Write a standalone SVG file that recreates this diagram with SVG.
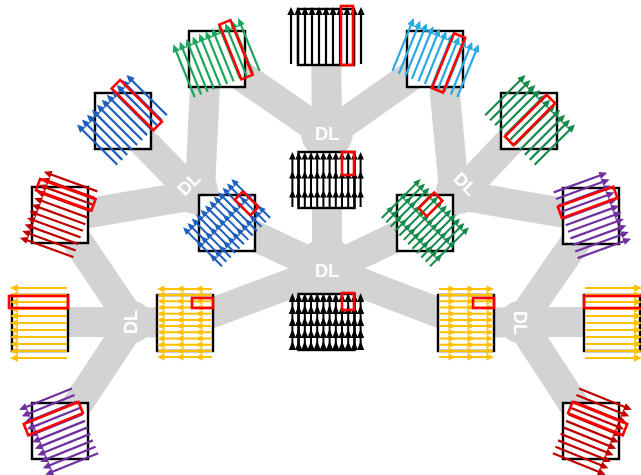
<svg xmlns="http://www.w3.org/2000/svg" xmlns:xlink="http://www.w3.org/1999/xlink" width="641" height="475" viewBox="0 0 641 475">
<style>
.sq{fill:#fff;stroke:#000;stroke-width:2.4}
.hl{fill:none;stroke:#ff0000;stroke-width:2.6}
.jn{fill:#d3d3d3}
.dl{font-family:"Liberation Sans",Arial,sans-serif;font-weight:bold;font-size:18px;fill:#fff;text-anchor:middle;dominant-baseline:central}
</style>
<defs>
<g id="a1"><line x1="0" y1="27" x2="0" y2="-23" stroke="currentColor" stroke-width="2.2"/><path d="M0,-30L3.7,-22L-3.7,-22Z" fill="currentColor"/></g>
<g id="leaf"><use href="#a1" x="-35"/><use href="#a1" x="-28"/><use href="#a1" x="-21"/><use href="#a1" x="-14"/><use href="#a1" x="-7"/><use href="#a1" x="0"/><use href="#a1" x="7"/><use href="#a1" x="14"/><use href="#a1" x="21"/><use href="#a1" x="28"/><use href="#a1" x="35"/></g>
<g id="a3"><line x1="0" y1="27" x2="0" y2="-24" stroke="currentColor" stroke-width="2"/><path d="M0,-28L3.3,-20.5L-3.3,-20.5Z M0,-9L3.3,-1.5L-3.3,-1.5Z M0,10L3.3,17.5L-3.3,17.5Z" fill="currentColor"/></g>
<g id="mid"><use href="#a3" x="-34.1"/><use href="#a3" x="-27.9"/><use href="#a3" x="-21.7"/><use href="#a3" x="-15.5"/><use href="#a3" x="-9.3"/><use href="#a3" x="-3.1"/><use href="#a3" x="3.1"/><use href="#a3" x="9.3"/><use href="#a3" x="15.5"/><use href="#a3" x="21.7"/><use href="#a3" x="27.9"/><use href="#a3" x="34.1"/></g>
<g id="a5"><line x1="0" y1="27" x2="0" y2="-24" stroke="currentColor" stroke-width="2"/><path d="M0,-29L3.6,-20L-3.6,-20Z M0,-17L3.6,-8L-3.6,-8Z M0,-5L3.6,4L-3.6,4Z M0,7L3.6,16L-3.6,16Z M0,19L3.6,28L-3.6,28Z" fill="currentColor"/></g>
<g id="dense"><use href="#a5" x="-34.1"/><use href="#a5" x="-27.9"/><use href="#a5" x="-21.7"/><use href="#a5" x="-15.5"/><use href="#a5" x="-9.3"/><use href="#a5" x="-3.1"/><use href="#a5" x="3.1"/><use href="#a5" x="9.3"/><use href="#a5" x="15.5"/><use href="#a5" x="21.7"/><use href="#a5" x="27.9"/><use href="#a5" x="34.1"/></g>
</defs>
<rect width="641" height="475" fill="#fff"/>
<g id="connectors" stroke="#d3d3d3" stroke-width="30" stroke-linecap="round" stroke-linejoin="round" fill="none">
<path d="M327,270 L327,135"/>
<path d="M327,135 L326,37"/>
<path d="M327,135 L217,59"/>
<path d="M327,135 L435,59"/>
<path d="M200,190 L206,62"/>
<path d="M454,190 L442,62"/>
<path d="M195,195 L123,121"/>
<path d="M195,195 L60,218"/>
<path d="M327,270 L227,223 L195,195"/>
<path d="M459,195 L529,121"/>
<path d="M459,195 L594,218"/>
<path d="M327,270 L425,223 L459,195"/>
<path d="M132,322 L62,218"/>
<path d="M132,322 L40,322"/>
<path d="M132,322 L60,431"/>
<path d="M327,270 L185,323 L132,322"/>
<path d="M520,322 L592,218"/>
<path d="M520,322 L612,322"/>
<path d="M520,322 L591,431"/>
<path d="M327,270 L466,323 L520,322"/>
<path d="M327,270 L327,322"/>
</g>
<g id="dl-top"><circle class="jn" cx="327" cy="133" r="26"/><text class="dl" x="327" y="134">DL</text></g>
<g id="dl-center"><circle class="jn" cx="327" cy="270" r="32"/><text class="dl" x="327" y="271">DL</text></g>
<g id="dl-left"><circle class="jn" cx="195" cy="191" r="23"/><text class="dl" transform="translate(189,184) rotate(-45)" x="0" y="0">DL</text></g>
<g id="dl-right"><circle class="jn" cx="459" cy="191" r="23"/><text class="dl" transform="translate(465,184) rotate(45)" x="0" y="0">DL</text></g>
<g id="dl-bottom-left"><circle class="jn" cx="132" cy="322" r="21"/><text class="dl" transform="translate(131,322) rotate(-90)" x="0" y="0">DL</text></g>
<g id="dl-bottom-right"><circle class="jn" cx="520" cy="322" r="21"/><text class="dl" transform="translate(520,323) rotate(90)" x="0" y="0">DL</text></g>

<g id="sq-top-black" transform="translate(326,37)"><rect class="sq" x="-28" y="-28" width="56" height="56"/><g style="color:#000"><use href="#leaf"/><rect class="hl" x="15" y="-31" width="12" height="59"/></g></g>
<g id="sq-top-green" transform="translate(217,59)"><rect class="sq" x="-28" y="-28" width="56" height="56"/><g transform="rotate(-22)" style="color:#1ca65c"><use href="#leaf"/><rect class="hl" x="15" y="-31" width="12" height="59"/></g></g>
<g id="sq-top-cyan" transform="translate(435,59)"><rect class="sq" x="-28" y="-28" width="56" height="56"/><g transform="rotate(22)" style="color:#2aa9e0"><use href="#leaf"/><rect class="hl" x="8" y="-31" width="12" height="59"/></g></g>
<g id="sq-blue-tl" transform="translate(123,121)"><rect class="sq" x="-28" y="-28" width="56" height="56"/><g transform="rotate(-45)" style="color:#1e5fbe"><use href="#leaf"/><rect class="hl" x="15" y="-31" width="12" height="59"/></g></g>
<g id="sq-green-r" transform="translate(529,121)"><rect class="sq" x="-28" y="-28" width="56" height="56"/><g transform="rotate(45)" style="color:#168a4c"><use href="#leaf"/><rect class="hl" x="-6" y="-31" width="12" height="59"/></g></g>
<g id="sq-red-l" transform="translate(60,215)"><rect class="sq" x="-28" y="-28" width="56" height="56"/><g transform="rotate(-70)" style="color:#c00000"><use href="#leaf"/><rect class="hl" x="15" y="-31" width="12" height="59"/></g></g>
<g id="sq-purple-r" transform="translate(591,216)"><rect class="sq" x="-28" y="-28" width="56" height="56"/><g transform="rotate(70)" style="color:#7030a0"><use href="#leaf"/><rect class="hl" x="-20" y="-31" width="12" height="59"/></g></g>
<g id="sq-yellow-leaf-l" transform="translate(40,323)"><rect class="sq" x="-28" y="-28" width="56" height="56"/><g transform="rotate(-90)" style="color:#ffc000"><use href="#leaf"/><rect class="hl" x="15" y="-31" width="12" height="59"/></g></g>
<g id="sq-yellow-leaf-r" transform="translate(612,323)"><rect class="sq" x="-28" y="-28" width="56" height="56"/><g transform="rotate(90)" style="color:#ffc000"><use href="#leaf"/><rect class="hl" x="-27" y="-31" width="12" height="59"/></g></g>
<g id="sq-purple-bl" transform="translate(60,431)"><rect class="sq" x="-28" y="-28" width="56" height="56"/><g transform="rotate(-112)" style="color:#7030a0"><use href="#leaf"/><rect class="hl" x="8" y="-31" width="12" height="59"/></g></g>
<g id="sq-red-br" transform="translate(591,431)"><rect class="sq" x="-28" y="-28" width="56" height="56"/><g transform="rotate(112)" style="color:#c00000"><use href="#leaf"/><rect class="hl" x="-20" y="-31" width="12" height="59"/></g></g>

<g id="sq-black-2" transform="translate(326.5,180)"><rect class="sq" x="-28" y="-28" width="56" height="56"/><g style="color:#000"><use href="#mid"/><rect class="hl" x="15.5" y="-28" width="12" height="23"/></g></g>
<g id="sq-black-3" transform="translate(326.5,322)"><rect class="sq" x="-28" y="-28" width="56" height="56"/><g style="color:#000"><use href="#dense"/><rect class="hl" x="15.5" y="-29" width="12" height="17"/></g></g>
<g id="sq-blue-2" transform="translate(227,223)"><rect class="sq" x="-28" y="-28" width="56" height="56"/><g transform="rotate(-45)" style="color:#1e5fbe"><use href="#mid"/><rect class="hl" x="22" y="-11" width="11.5" height="22"/></g></g>
<g id="sq-green-2" transform="translate(425,223)"><rect class="sq" x="-28" y="-28" width="56" height="56"/><g transform="rotate(45)" style="color:#168a4c"><use href="#mid"/><rect class="hl" x="-15" y="-28" width="11.5" height="22"/></g></g>
<g id="sq-yellow-l" transform="translate(185,323)"><rect class="sq" x="-28" y="-28" width="56" height="56"/><g transform="rotate(-90)" style="color:#ffc000"><use href="#mid"/><rect class="hl" x="15" y="7" width="10" height="21"/></g></g>
<g id="sq-yellow-r" transform="translate(466,323)"><rect class="sq" x="-28" y="-28" width="56" height="56"/><g transform="rotate(90)" style="color:#ffc000"><use href="#mid"/><rect class="hl" x="-25" y="-28" width="10" height="21"/></g></g>
</svg>
